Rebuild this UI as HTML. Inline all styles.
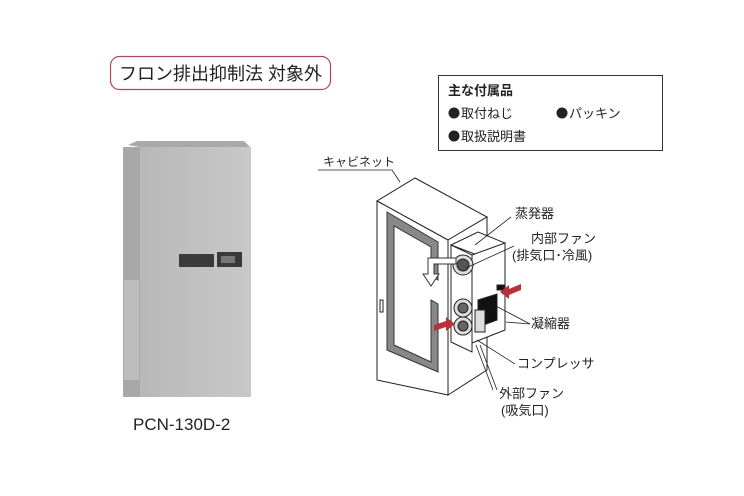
<!DOCTYPE html>
<html><head><meta charset="utf-8"><style>
body{margin:0;background:#fff;}
svg{display:block;font-family:"Liberation Sans","Noto Sans CJK JP",sans-serif;}
.cjk{font-family:"Noto Sans CJK JP",sans-serif;}
</style></head><body>
<svg width="744" height="496" viewBox="0 0 744 496" xmlns="http://www.w3.org/2000/svg">
<defs>
<linearGradient id="fr" x1="0" x2="1"><stop offset="0" stop-color="#b8b8b8"/><stop offset="1" stop-color="#c8c8c8"/></linearGradient>
</defs>
<rect x="110.5" y="56.5" width="220" height="33" rx="9" fill="#fff" stroke="#a8485a" stroke-width="1.2"/>
<text x="119" y="80" font-size="18" fill="#222">フロン排出抑制法 対象外</text>

<polygon points="128,145 137,141 244,141 250,147 140,147" fill="#a9a9a9"/>
<rect x="123" y="147" width="18" height="250" fill="#a8a8a8"/>
<rect x="124" y="280" width="15" height="100" fill="#bdbdbd"/>
<rect x="140" y="147" width="111" height="250" fill="url(#fr)"/>
<rect x="179" y="254" width="35" height="13" fill="#3a3a3a"/>
<rect x="217" y="252" width="25" height="15" fill="#3a3a3a"/>
<rect x="221" y="256" width="14" height="7" fill="#777"/>
<text x="133" y="430" font-size="17" fill="#222">PCN-130D-2</text>

<rect x="438.5" y="75.5" width="224" height="75" fill="#fff" stroke="#333" stroke-width="1"/>
<text x="448" y="95" font-size="13" font-weight="bold" fill="#222">主な付属品</text>
<g font-size="13" fill="#222">
<circle cx="454" cy="113" r="5.5"/><text x="461" y="118">取付ねじ</text>
<circle cx="562" cy="113" r="5.5"/><text x="569" y="118">パッキン</text>
<circle cx="454" cy="136" r="5.5"/><text x="461" y="141">取扱説明書</text>
</g>

<g stroke="#222" stroke-width="1" fill="#fff">
<polyline points="318,170 392,170 400,182" fill="none" stroke-width="0.8"/>
<polygon points="377,201 415,178 487,217 448,240"/>
<polygon points="448,240 487,217 487,370 448,395"/>
<polygon points="377,201 448,240 448,395 377,380"/>
<polygon points="387,212 438,242 438,280 431,276 431,247 394,226 394,345 431,362 431,300 438,304 438,372 387,350" fill="#888" stroke="#333"/>
<rect x="380" y="300" width="3" height="12" fill="#fff"/>
<polygon points="451,245 478,232 505,243 480,256" fill="#fff"/>
<polygon points="451,245 472,255 472,352 451,342"/>
<polygon points="472,255 505,243 505,330 472,343"/>
<polygon points="478,300 497,294 497,320 478,327" fill="#111"/>
<rect x="497" y="285" width="7" height="5" fill="#111"/>
<circle cx="463" cy="265" r="10" fill="#ddd"/>
<circle cx="463" cy="265" r="6" fill="#555"/>
<circle cx="463" cy="308" r="9" fill="#ddd"/>
<circle cx="463" cy="326" r="9" fill="#ddd"/>
<circle cx="463" cy="308" r="5" fill="#666"/>
<circle cx="463" cy="326" r="5" fill="#666"/>
<rect x="475" y="310" width="10" height="22" fill="#ddd"/>
</g>
<path d="M456,258 L428,258 L428,274 L423,274 L431,286 L439,274 L434,274 L434,264 L456,264 Z" fill="#fff" stroke="#333"/>
<polygon points="434,325 446,321 446,317 455,324 446,331 446,327 434,331" fill="#b8303a"/>
<polygon points="521,290 509,295 509,299 500,292 509,285 509,289 521,284" fill="#b8303a"/>
<g stroke="#222" stroke-width="0.8" fill="none">
<line x1="475" y1="245" x2="511" y2="217"/>
<line x1="466" y1="268" x2="514" y2="246"/>
<line x1="494" y1="305" x2="530" y2="324"/>
<line x1="506" y1="322" x2="530" y2="324"/>
<line x1="477" y1="340" x2="515" y2="364"/>
<line x1="480" y1="345" x2="497" y2="390"/>
<line x1="476" y1="345" x2="493" y2="390"/>
</g>
<g font-size="13" fill="#222">
<text x="323" y="166" font-size="12">キャビネット</text>
<text x="515" y="218">蒸発器</text>
<text x="531" y="243">内部ファン</text>
<text x="512" y="260">(排気口･冷風)</text>
<text x="531" y="328">凝縮器</text>
<text x="517" y="368">コンプレッサ</text>
<text x="499" y="398">外部ファン</text>
<text x="501" y="415">(吸気口)</text>
</g>
</svg>
</body></html>
